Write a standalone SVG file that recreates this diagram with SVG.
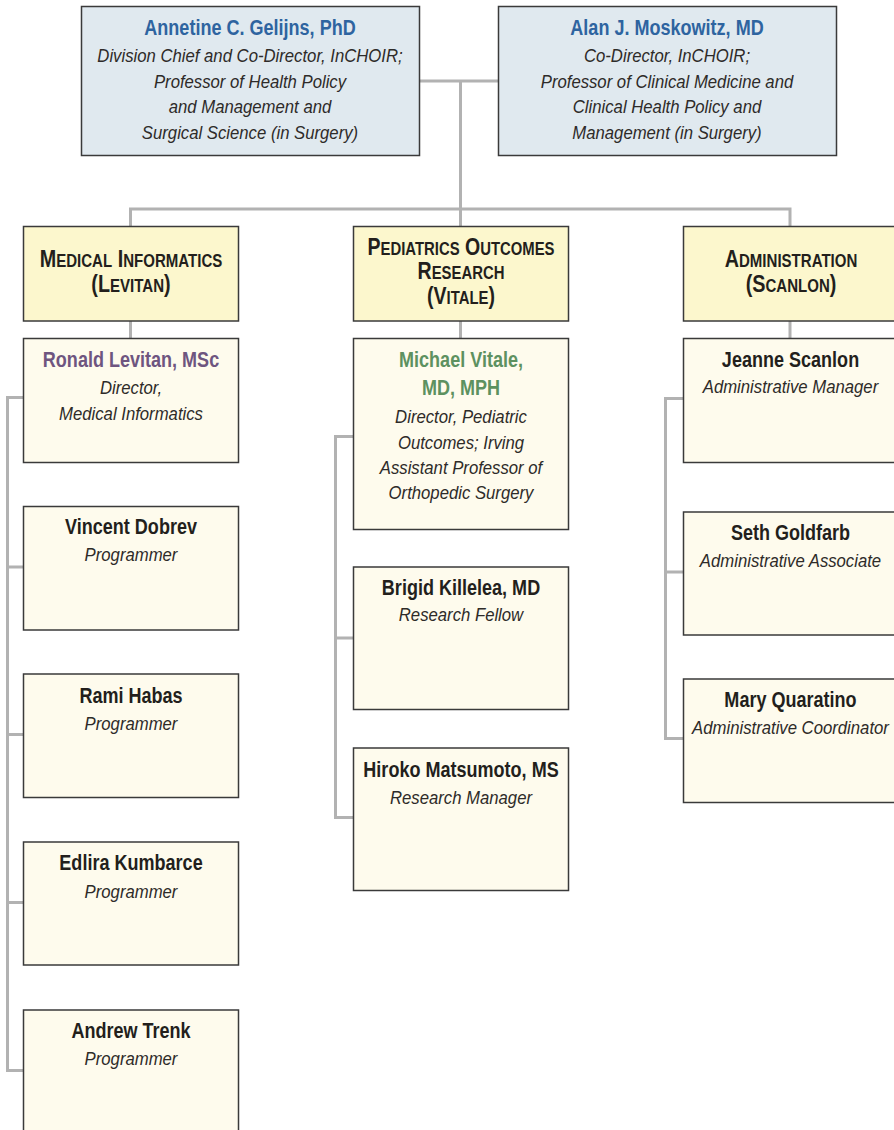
<svg xmlns="http://www.w3.org/2000/svg" width="894" height="1130" viewBox="0 0 894 1130">
<style>
.top{fill:#e0e9ef;stroke:#3a3a3a;stroke-width:1.5}
.hdr{fill:#fcf7cd;stroke:#3a3a3a;stroke-width:1.5}
.box{fill:#fefbed;stroke:#3a3a3a;stroke-width:1.5}
.con{fill:none;stroke:#b2b2b2;stroke-width:3}
text{font-family:"Liberation Sans",Arial,sans-serif;text-anchor:middle}
.nm{font-weight:bold;font-size:22px;fill:#231f1c}
.bl{fill:#2e64a0}
.pu{fill:#6e5580}
.gr{fill:#5d9160}
.rl{font-style:italic;font-size:19px;fill:#2e2b29}
.hd{font-weight:bold;font-size:23px;fill:#231f1c}
.sc{font-size:17.5px}
</style>
<rect width="894" height="1130" fill="#fff"/>
<g id="connectors">
<path class="con" d="M419 81H498M460.5 81V226M130.5 226V209H790V226"/>
<path class="con" d="M130.5 321V338M460.5 321V338M790 321V338"/>
<path class="con" d="M24 397.5H7.5V1070.5H24M7.5 567H24M7.5 734.5H24M7.5 902.5H24"/>
<path class="con" d="M353 436.5H335.5V817.5H353M335.5 638H353"/>
<path class="con" d="M683 398.5H665.5V738.5H683M665.5 572H683"/>
</g>
<g id="gelijns">
<rect class="top" x="81.5" y="6.5" width="338" height="149"/>
<text transform="translate(250 35) scale(0.82 1)" class="nm bl">Annetine C. Gelijns, PhD</text>
<text transform="translate(250 61.5) scale(0.88 1)" class="rl">Division Chief and Co-Director, InCHOIR;</text>
<text transform="translate(250 87.5) scale(0.88 1)" class="rl">Professor of Health Policy</text>
<text transform="translate(250 113) scale(0.88 1)" class="rl">and Management and</text>
<text transform="translate(250 138.5) scale(0.88 1)" class="rl">Surgical Science (in Surgery)</text>
</g>
<g id="moskowitz">
<rect class="top" x="498.5" y="6.5" width="338" height="149"/>
<text transform="translate(667 35) scale(0.82 1)" class="nm bl">Alan J. Moskowitz, MD</text>
<text transform="translate(667 61.5) scale(0.88 1)" class="rl">Co-Director, InCHOIR;</text>
<text transform="translate(667 87.5) scale(0.88 1)" class="rl">Professor of Clinical Medicine and</text>
<text transform="translate(667 113) scale(0.88 1)" class="rl">Clinical Health Policy and</text>
<text transform="translate(667 138.5) scale(0.88 1)" class="rl">Management (in Surgery)</text>
</g>
<g id="hdr-informatics">
<rect class="hdr" x="23.5" y="226.5" width="215" height="94.5"/>
<text transform="translate(131 267) scale(0.86 1)" class="hd">M<tspan class="sc">EDICAL</tspan> I<tspan class="sc">NFORMATICS</tspan></text>
<text transform="translate(131 291.5) scale(0.86 1)" class="hd">(L<tspan class="sc">EVITAN</tspan>)</text>
</g>
<g id="hdr-pediatrics">
<rect class="hdr" x="353.5" y="226.5" width="215" height="94.5"/>
<text transform="translate(461 255) scale(0.85 1)" class="hd">P<tspan class="sc">EDIATRICS</tspan> O<tspan class="sc">UTCOMES</tspan></text>
<text transform="translate(461 279) scale(0.85 1)" class="hd">R<tspan class="sc">ESEARCH</tspan></text>
<text transform="translate(461 303.5) scale(0.85 1)" class="hd">(V<tspan class="sc">ITALE</tspan>)</text>
</g>
<g id="hdr-admin">
<rect class="hdr" x="683.5" y="226.5" width="215" height="94.5"/>
<text transform="translate(791 267) scale(0.86 1)" class="hd">A<tspan class="sc">DMINISTRATION</tspan></text>
<text transform="translate(791 291.5) scale(0.86 1)" class="hd">(S<tspan class="sc">CANLON</tspan>)</text>
</g>
<g id="levitan">
<rect class="box" x="23.5" y="338.5" width="215" height="124"/>
<text transform="translate(131 367) scale(0.82 1)" class="nm pu">Ronald Levitan, MSc</text>
<text transform="translate(131 393.5) scale(0.88 1)" class="rl">Director,</text>
<text transform="translate(131 419.5) scale(0.88 1)" class="rl">Medical Informatics</text>
</g>
<g id="dobrev">
<rect class="box" x="23.5" y="506.5" width="215" height="123.5"/>
<text transform="translate(131 534) scale(0.82 1)" class="nm">Vincent Dobrev</text>
<text transform="translate(131 561) scale(0.88 1)" class="rl">Programmer</text>
</g>
<g id="habas">
<rect class="box" x="23.5" y="674" width="215" height="123.5"/>
<text transform="translate(131 702.5) scale(0.82 1)" class="nm">Rami Habas</text>
<text transform="translate(131 729.5) scale(0.88 1)" class="rl">Programmer</text>
</g>
<g id="kumbarce">
<rect class="box" x="23.5" y="842" width="215" height="123"/>
<text transform="translate(131 870) scale(0.82 1)" class="nm">Edlira Kumbarce</text>
<text transform="translate(131 897.5) scale(0.88 1)" class="rl">Programmer</text>
</g>
<g id="trenk">
<rect class="box" x="23.5" y="1010" width="215" height="140"/>
<text transform="translate(131 1038) scale(0.82 1)" class="nm">Andrew Trenk</text>
<text transform="translate(131 1065) scale(0.88 1)" class="rl">Programmer</text>
</g>
<g id="vitale">
<rect class="box" x="353.5" y="338.5" width="215" height="191"/>
<text transform="translate(461 367) scale(0.82 1)" class="nm gr">Michael Vitale,</text>
<text transform="translate(461 394.5) scale(0.82 1)" class="nm gr">MD, MPH</text>
<text transform="translate(461 422.5) scale(0.88 1)" class="rl">Director, Pediatric</text>
<text transform="translate(461 449) scale(0.88 1)" class="rl">Outcomes; Irving</text>
<text transform="translate(461 474) scale(0.88 1)" class="rl">Assistant Professor of</text>
<text transform="translate(461 499) scale(0.88 1)" class="rl">Orthopedic Surgery</text>
</g>
<g id="killelea">
<rect class="box" x="353.5" y="567" width="215" height="142.5"/>
<text transform="translate(461 595) scale(0.82 1)" class="nm">Brigid Killelea, MD</text>
<text transform="translate(461 621) scale(0.88 1)" class="rl">Research Fellow</text>
</g>
<g id="matsumoto">
<rect class="box" x="353.5" y="748" width="215" height="142.5"/>
<text transform="translate(461 777) scale(0.82 1)" class="nm">Hiroko Matsumoto, MS</text>
<text transform="translate(461 803.5) scale(0.88 1)" class="rl">Research Manager</text>
</g>
<g id="scanlon">
<rect class="box" x="683.5" y="338.5" width="215" height="124"/>
<text transform="translate(790.5 366.5) scale(0.82 1)" class="nm">Jeanne Scanlon</text>
<text transform="translate(790.5 393) scale(0.88 1)" class="rl">Administrative Manager</text>
</g>
<g id="goldfarb">
<rect class="box" x="683.5" y="512" width="215" height="123"/>
<text transform="translate(790.5 540) scale(0.82 1)" class="nm">Seth Goldfarb</text>
<text transform="translate(790.5 566.5) scale(0.88 1)" class="rl">Administrative Associate</text>
</g>
<g id="quaratino">
<rect class="box" x="683.5" y="679" width="215" height="123.5"/>
<text transform="translate(790.5 707) scale(0.82 1)" class="nm">Mary Quaratino</text>
<text transform="translate(790.5 734) scale(0.88 1)" class="rl">Administrative Coordinator</text>
</g>
</svg>
